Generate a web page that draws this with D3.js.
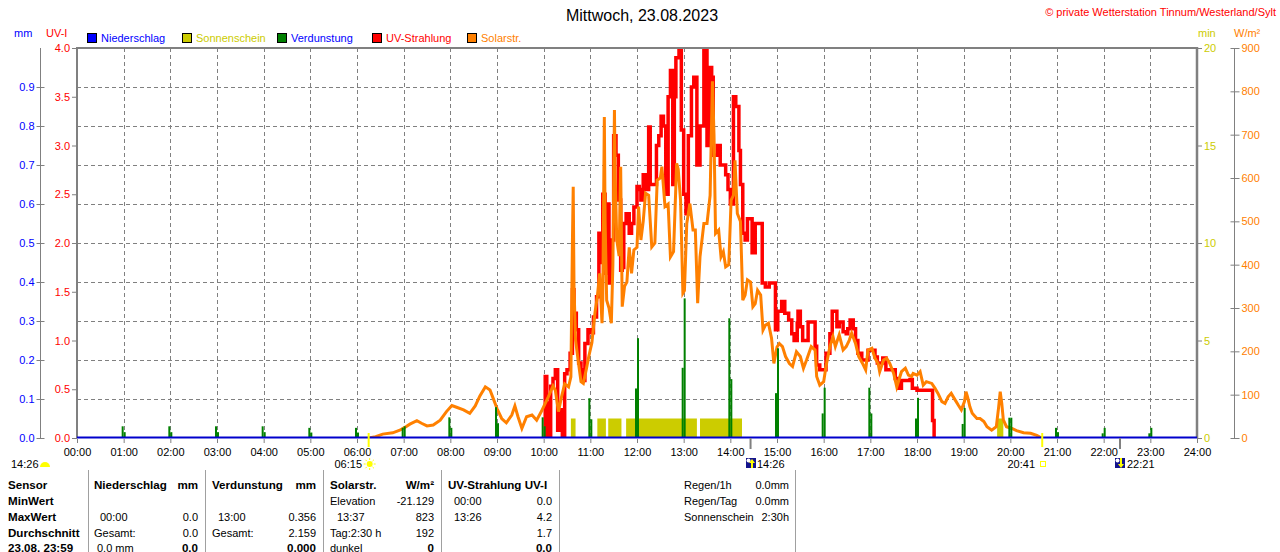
<!DOCTYPE html>
<html>
<head>
<meta charset="utf-8">
<script src="https://cdn.jsdelivr.net/npm/d3@7"></script>
<style>
body { margin: 0; background: #fff; }
text { font-family: "Liberation Sans", Arial, sans-serif; }
</style>
</head>
<body>
<svg width="1280" height="552"></svg>
<script>
// --- data ---
var hourLabels = ["00:00","01:00","02:00","03:00","04:00","05:00","06:00","07:00","08:00","09:00","10:00","11:00",
  "12:00","13:00","14:00","15:00","16:00","17:00","18:00","19:00","20:00","21:00","22:00","23:00","24:00"];
var mmTicks = [0.0, 0.1, 0.2, 0.3, 0.4, 0.5, 0.6, 0.7, 0.8, 0.9];
var uvTicks = [0.0, 0.5, 1.0, 1.5, 2.0, 2.5, 3.0, 3.5, 4.0];
var minTicks = [0, 5, 10, 15, 20];
var solarTicks = [0, 100, 200, 300, 400, 500, 600, 700, 800, 900];

// Verdunstung, two samples around each full hour (mm)
var evapHours = ["01:00","02:00","03:00","04:00","05:00","06:00","07:00","08:00","09:00","10:00","11:00","12:00",
  "13:00","14:00","15:00","16:00","17:00","18:00","19:00","20:00","21:00","22:00","23:00"];
var evapLeft  = [0.03, 0.03, 0.03, 0.03, 0.026, 0.026, 0.026, 0.053, 0.079, 0.053, 0.102, 0.127,
  0.18, 0.307, 0.115, 0.063, 0.129, 0.05, 0.036, 0.052, 0.026, 0.012, 0.012];
var evapRight = [0.015, 0.015, 0.015, 0.015, 0.014, 0.014, 0.03, 0.026, 0.038, 0.03, 0.048, 0.256,
  0.358, 0.151, 0.23, 0.129, 0.063, 0.103, 0.077, 0.052, 0.015, 0.026, 0.026];

// Sonnenschein intervals (min per min)
var sunStart   = ["10:35","11:09","11:23","11:46","13:21","19:43"];
var sunEnd     = ["10:41","11:20","11:40","13:17","14:15","19:51"];
var sunMinutes = [1, 1, 1, 1, 1, 1];

// UV-Strahlung (UV-I)
var uvTime = ["10:00","10:02","10:04","10:06","10:09","10:12","10:15","10:18","10:21","10:24","10:27","10:30",
  "10:34","10:37","10:39","10:42","10:45","10:48","10:50","10:53","10:57","11:00","11:04","11:08","11:11","11:14",
  "11:16","11:19","11:21","11:24","11:27","11:30","11:33","11:36","11:39","11:41","11:43","11:46","11:50","11:53",
  "11:56","12:00","12:03","12:05","12:08","12:12","12:15","12:17","12:21","12:25","12:28","12:31","12:34","12:37",
  "12:40","12:43","12:46","12:48","12:50","12:54","12:57","13:00","13:03","13:06","13:10","13:13","13:17","13:21",
  "13:24","13:26","13:28","13:30","13:34","13:36","13:38","13:43","13:47","13:51","13:54","13:57","14:00","14:04",
  "14:07","14:11","14:13","14:16","14:19","14:22","14:26","14:28","14:32","14:37","14:41","14:45","14:50","14:55",
  "14:58","15:01","15:06","15:10","15:15","15:19","15:22","15:26","15:27","15:30","15:33","15:36","15:40","15:47",
  "15:49","15:51","15:55","16:00","16:03","16:08","16:11","16:14","16:17","16:20","16:25","16:29","16:31","16:34",
  "16:38","16:41","16:44","16:49","16:53","16:57","17:02","17:06","17:09","17:12","17:16","17:20","17:27","17:32",
  "17:36","17:40","17:51","17:54","18:00","18:19","18:20","18:22"];
var uvValue = [0, 0.63, 0.36, 0, 0.53, 0.61, 0.70, 0.08, 0.29, 0, 0.66, 0.70,
  0.87, 1.52, 1.28, 1.11, 0.77, 0.70, 0.59, 0.97, 1.11, 1.08, 1.24, 1.45, 2.1, 1.8,
  2.5, 1.69, 2.4, 1.59, 2.03, 3.1, 2.9, 2.44, 1.72, 1.75, 2.2, 2.3, 2.1, 2.2,
  2.37, 2.58, 2.55, 2.44, 2.7, 2.55, 3.19, 2.6, 2.6, 3.0, 3.1, 3.3, 3.2, 2.5,
  3.5, 3.77, 2.6, 3.5, 3.9, 4.05, 3.16, 2.5, 2.3, 3.1, 3.6, 3.7, 2.8, 3.2,
  3.2, 4.2, 4.1, 3.0, 3.8, 3.7, 2.9, 3.0, 2.8, 2.8, 2.7, 2.55, 2.4, 3.5,
  3.4, 2.95, 2.6, 2.1, 2.03, 2.25, 2.25, 1.9, 2.2, 2.2, 1.59, 1.55, 1.59, 1.59,
  1.11, 1.3, 1.40, 1.28, 1.21, 1.07, 1.0, 1.18, 1.30, 1.14, 1.0, 1.0, 1.19, 1.19,
  0.94, 0.75, 0.70, 0.70, 0.87, 1.07, 1.30, 1.30, 1.14, 1.19, 1.09, 1.07, 1.12, 1.21,
  1.12, 1.0, 0.87, 0.80, 0.80, 0.90, 0.90, 0.83, 0.77, 0.77, 0.82, 0.70, 0.70, 0.61,
  0.51, 0.59, 0.60, 0.51, 0.49, 0.49, 0.18, 0];

// Solarstrahlung (W/m2)
var solarTime = ["06:15","06:24","06:33","06:46","06:55","07:02","07:08","07:17","07:23","07:30","07:38","07:47",
  "07:55","08:02","08:08","08:17","08:25","08:32","08:38","08:45","08:51","08:55","09:00","09:06","09:12","09:19",
  "09:23","09:27","09:32","09:38","09:45","09:51","09:57","10:02","10:06","10:12","10:15","10:19","10:23","10:27",
  "10:32","10:35","10:37","10:38","10:39","10:41","10:45","10:48","10:51","10:55","10:58","11:02","11:06","11:09",
  "11:12","11:15","11:16","11:18","11:19","11:21","11:24","11:27","11:29","11:31","11:32","11:34","11:37","11:39",
  "11:41","11:44","11:47","11:50","11:53","11:56","12:00","12:02","12:05","12:08","12:11","12:15","12:19","12:23",
  "12:26","12:30","12:32","12:36","12:40","12:43","12:47","12:51","12:53","12:56","12:59","13:01","13:04","13:08",
  "13:12","13:15","13:18","13:21","13:26","13:30","13:34","13:37","13:39","13:41","13:45","13:48","13:51","13:54",
  "13:58","14:01","14:04","14:06","14:09","14:13","14:16","14:19","14:22","14:26","14:29","14:32","14:35","14:39",
  "14:42","14:45","14:49","14:53","14:56","15:00","15:03","15:07","15:11","15:16","15:20","15:25","15:30","15:34",
  "15:38","15:44","15:49","15:51","15:55","16:00","16:03","16:08","16:12","16:15","16:20","16:25","16:29","16:33",
  "16:36","16:41","16:45","16:50","16:54","16:57","17:02","17:06","17:10","17:12","17:17","17:21","17:25","17:30",
  "17:34","17:40","17:45","17:49","17:53","17:55","18:00","18:04","18:08","18:12","18:19","18:23","18:27","18:32",
  "18:36","18:40","18:44","18:49","18:53","18:57","19:01","19:03","19:05","19:08","19:11","19:17","19:21","19:26",
  "19:30","19:36","19:42","19:45","19:47","19:49","19:51","19:55","20:02","20:08","20:17","20:26","20:34","20:38","20:41"];
var solarValue = [0, 3, 9, 12, 18, 25, 32, 40, 34, 28, 30, 41,
  61, 75, 71, 65, 57, 74, 97, 118, 111, 92, 68, 45, 35, 53,
  74, 49, 22, 49, 53, 41, 61, 80, 95, 120, 110, 61, 95, 125,
  118, 141, 457, 580, 350, 226, 170, 130, 126, 160, 188, 220, 290, 326,
  380, 265, 320, 741, 500, 318, 300, 265, 400, 757, 600, 457, 420, 626,
  303, 350, 360, 440, 380, 434, 440, 534, 457, 500, 565, 560, 441, 450,
  595, 600, 626, 534, 540, 418, 430, 634, 620, 549, 334, 340, 495, 541,
  480, 480, 311, 418, 495, 495, 560, 823, 700, 472, 480, 418, 430, 395,
  400, 549, 560, 641, 518, 500, 318, 330, 365, 360, 303, 310, 341, 330,
  249, 260, 265, 230, 172, 210, 218, 211, 188, 172, 165, 199, 188, 161,
  180, 211, 203, 142, 122, 130, 165, 211, 234, 211, 238, 203, 211, 226,
  242, 218, 188, 172, 157, 203, 207, 184, 172, 153, 180, 184, 172, 149,
  118, 153, 161, 145, 142, 149, 145, 153, 122, 130, 126, 115, 103, 84,
  80, 95, 103, 88, 76, 65, 84, 107, 95, 72, 57, 45, 45, 38,
  26, 18, 26, 72, 107, 80, 42, 26, 22, 17, 12, 11, 6, 2, 0];

var rowNames = ["Sensor", "MinWert", "MaxWert", "Durchschnitt", "23.08. 23:59"];

// --- setup ---
var svg = d3.select("svg"),
    plotL = 77, plotR = 1197, plotT = 48, plotB = 438;

function mins(s) { var p = s.split(":"); return +p[0] * 60 + +p[1]; }

var x = d3.scaleLinear().domain([0, 1440]).range([plotL, plotR]),
    yMm = d3.scaleLinear().domain([0, 1]).range([plotB, plotT]),
    yUv = d3.scaleLinear().domain([0, 4]).range([plotB, plotT]),
    yMin = d3.scaleLinear().domain([0, 20]).range([plotB, plotT]),
    ySol = d3.scaleLinear().domain([0, 900]).range([plotB, plotT]);

var grey = "#808080", blue = "#0000ff", red = "#ff0000", orange = "#ff8000",
    yellow = "#cccc00", green = "#008000";
var fontFam = "Liberation Sans, Arial, sans-serif";

svg.append("defs").append("clipPath").attr("id", "plot")
  .append("rect").attr("x", plotL).attr("y", plotT).attr("width", plotR - plotL).attr("height", plotB - plotT);

// grid
var g = svg.append("g");
g.selectAll(".hgrid").data(mmTicks.slice(1)).enter().append("line")
    .attr("x1", plotL).attr("x2", plotR)
    .attr("y1", function(d) { return Math.round(yMm(d)) + 0.5; })
    .attr("y2", function(d) { return Math.round(yMm(d)) + 0.5; })
    .attr("stroke", grey).attr("stroke-dasharray", "4,3");
g.selectAll(".vgrid").data(hourLabels.slice(1, 24)).enter().append("line")
    .attr("x1", function(d) { return Math.round(x(mins(d))) + 0.5; })
    .attr("x2", function(d) { return Math.round(x(mins(d))) + 0.5; })
    .attr("y1", plotT).attr("y2", plotB)
    .attr("stroke", grey).attr("stroke-dasharray", "4,3");

// sunshine bars
var sun = sunStart.map(function(s, i) { return {a: mins(s), b: mins(sunEnd[i]), v: sunMinutes[i]}; });
g.selectAll(".sun").data(sun).enter().append("rect")
    .attr("x", function(d) { return x(d.a); })
    .attr("width", function(d) { return x(d.b) - x(d.a); })
    .attr("y", function(d) { return yMin(d.v); })
    .attr("height", function(d) { return plotB - yMin(d.v); })
    .attr("fill", yellow);

// lines
var uv = uvTime.map(function(t, i) { return {t: mins(t), v: uvValue[i]}; });
var sol = solarTime.map(function(t, i) { return {t: mins(t), v: solarValue[i]}; });

var lines = svg.append("g").attr("clip-path", "url(#plot)");
lines.append("path").datum(uv)
    .attr("d", d3.line().curve(d3.curveStepAfter)
      .x(function(d) { return x(d.t); }).y(function(d) { return yUv(d.v); }))
    .attr("fill", "none").attr("stroke", red).attr("stroke-width", 3.5);
lines.append("path").datum(sol)
    .attr("d", d3.line().x(function(d) { return x(d.t); }).y(function(d) { return ySol(d.v); }))
    .attr("fill", "none").attr("stroke", orange).attr("stroke-width", 3);

// evaporation bars
var evap = evapHours.map(function(h, i) { return {t: mins(h), l: evapLeft[i], r: evapRight[i]}; });
var eb = svg.append("g");
eb.selectAll(".el").data(evap).enter().append("rect")
    .attr("x", function(d) { return x(d.t) - 2; }).attr("width", 2)
    .attr("y", function(d) { return yMm(d.l); })
    .attr("height", function(d) { return plotB - yMm(d.l); })
    .attr("fill", green);
eb.selectAll(".er").data(evap).enter().append("rect")
    .attr("x", function(d) { return x(d.t); }).attr("width", 2)
    .attr("y", function(d) { return yMm(d.r); })
    .attr("height", function(d) { return plotB - yMm(d.r); })
    .attr("fill", green);

// frame
svg.append("line").attr("x1", plotL).attr("x2", plotL).attr("y1", plotT - 1).attr("y2", plotB)
    .attr("stroke", grey).attr("stroke-width", 2);
svg.append("line").attr("x1", plotL).attr("x2", plotR + 1).attr("y1", plotT).attr("y2", plotT)
    .attr("stroke", grey).attr("stroke-width", 2);
svg.append("line").attr("x1", plotR).attr("x2", plotR).attr("y1", plotT - 1).attr("y2", plotB)
    .attr("stroke", grey).attr("stroke-width", 2.5);
svg.append("line").attr("x1", plotL).attr("x2", plotR).attr("y1", plotB - 0.5).attr("y2", plotB - 0.5)
    .attr("stroke", "#0000cc").attr("stroke-width", 2);

// x axis
var xAxis = svg.append("g")
    .attr("transform", "translate(0," + (plotB + 1) + ")")
    .call(d3.axisBottom(x).tickValues(hourLabels.map(mins)).tickSize(4).tickPadding(5)
      .tickFormat(function(d, i) { return hourLabels[i]; }));
xAxis.select(".domain").remove();
xAxis.selectAll("line").attr("stroke", grey);
xAxis.selectAll("text").attr("font-size", 11).attr("fill", "#000").attr("font-family", fontFam);

// left axes
var mmAxis = svg.append("g").attr("transform", "translate(40.5,0)")
    .call(d3.axisLeft(yMm).tickValues(mmTicks).tickSize(4).tickFormat(d3.format(".1f")));
mmAxis.select(".domain").attr("d", "M0," + plotT + "V" + plotB).attr("stroke", grey);
mmAxis.selectAll(".tick line").attr("x2", 4).attr("x1", -4).attr("stroke", grey);
mmAxis.selectAll("text").attr("fill", blue).attr("font-size", 11).attr("x", -6).attr("font-family", fontFam);

var uvAxis = svg.append("g").attr("transform", "translate(" + plotL + ",0)")
    .call(d3.axisLeft(yUv).tickValues(uvTicks).tickSize(5).tickPadding(2).tickFormat(d3.format(".1f")));
uvAxis.select(".domain").remove();
uvAxis.selectAll(".tick line").attr("stroke", grey);
uvAxis.selectAll("text").attr("fill", red).attr("font-size", 11).attr("font-family", fontFam);

// right axes
var minAxis = svg.append("g").attr("transform", "translate(" + plotR + ",0)")
    .call(d3.axisRight(yMin).tickValues(minTicks).tickSize(5).tickPadding(2));
minAxis.select(".domain").remove();
minAxis.selectAll(".tick line").attr("stroke", grey);
minAxis.selectAll("text").attr("fill", yellow).attr("font-size", 11).attr("font-family", fontFam);

var solAxis = svg.append("g").attr("transform", "translate(1234.5,0)")
    .call(d3.axisRight(ySol).tickValues(solarTicks).tickSize(5).tickPadding(2));
solAxis.select(".domain").attr("d", "M0," + plotT + "V" + plotB).attr("stroke", grey);
solAxis.selectAll(".tick line").attr("x1", -4).attr("stroke", grey);
solAxis.selectAll("text").attr("fill", orange).attr("font-size", 11).attr("font-family", fontFam);

// text helper
function label(tx, ty, s, col, size, anchor, weight) {
  return svg.append("text").attr("x", tx).attr("y", ty).attr("dy", "0.35em")
    .attr("fill", col).attr("font-size", size).attr("text-anchor", anchor || "start")
    .attr("font-weight", weight || "normal").text(s);
}
label(14, 33, "mm", blue, 11);
label(46, 33, "UV-I", red, 11);
label(1198, 33, "min", yellow, 11);
label(1234, 33, "W/m²", orange, 11);

// title & copyright
label(642, 15, "Mittwoch, 23.08.2023", "#000", 16, "middle");
label(1276, 12, "© private Wetterstation Tinnum/Westerland/Sylt", red, 11, "end");

// legend
var legendNames = ["Niederschlag", "Sonnenschein", "Verdunstung", "UV-Strahlung", "Solarstr."];
var legendFill = [blue, yellow, green, red, orange];
var legendText = [blue, yellow, blue, red, orange];
var legendX = [87, 182, 277, 372, 467];
legendNames.forEach(function(n, i) {
  svg.append("rect").attr("x", legendX[i] + 0.5).attr("y", 33.5).attr("width", 9).attr("height", 9)
    .attr("fill", legendFill[i]).attr("stroke", "#000");
  label(legendX[i] + 14, 38, n, legendText[i], 11);
});

// sunrise / sunset ticks and moon ticks
["06:15", "20:41"].forEach(function(m) {
  svg.append("line").attr("x1", x(mins(m))).attr("x2", x(mins(m)))
    .attr("y1", 433).attr("y2", 447).attr("stroke", "#ffff00").attr("stroke-width", 2);
});
["14:26", "22:21"].forEach(function(m) {
  svg.append("line").attr("x1", x(mins(m))).attr("x2", x(mins(m)))
    .attr("y1", plotB).attr("y2", 449).attr("stroke", grey).attr("stroke-width", 2);
});

// markers row
label(11, 464, "14:26", "#000", 11);
svg.append("path").attr("d", "M40,467 A5,5 0 0 1 50,467 Z").attr("fill", "#ffff00");
label(362, 464, "06:15", "#000", 11, "end");
var sx = x(mins("06:15")) + 1, sy = 464;
svg.append("circle").attr("cx", sx).attr("cy", sy).attr("r", 3).attr("fill", "#ffff00");
[0, 1, 2, 3, 4, 5, 6, 7].forEach(function(k) {
  var a = k * Math.PI / 4;
  svg.append("line").attr("x1", sx + Math.cos(a) * 4).attr("y1", sy + Math.sin(a) * 4)
    .attr("x2", sx + Math.cos(a) * 6).attr("y2", sy + Math.sin(a) * 6)
    .attr("stroke", "#ffff00").attr("stroke-width", 1);
});
function moonIcon(mx, up) {
  svg.append("rect").attr("x", mx).attr("y", 458).attr("width", 10).attr("height", 10).attr("fill", "#14148c");
  svg.append("circle").attr("cx", mx + 2.5).attr("cy", 460.5).attr("r", 2).attr("fill", "#fff");
  var ax = mx + 6;
  svg.append("path").attr("d", up
      ? "M" + ax + ",459 L" + (ax + 3) + ",463 L" + (ax - 3) + ",463 Z M" + (ax - 1) + ",463 h2 v5 h-2 Z"
      : "M" + ax + ",468 L" + (ax + 3) + ",464 L" + (ax - 3) + ",464 Z M" + (ax - 1) + ",458 h2 v6 h-2 Z")
    .attr("fill", "#ffff00");
}
moonIcon(746, true);
label(757, 464, "14:26", "#000", 11);
label(1035, 464, "20:41", "#000", 11, "end");
svg.append("rect").attr("x", 1040.5).attr("y", 461.5).attr("width", 5).attr("height", 5)
  .attr("fill", "none").attr("stroke", "#ffff00");
moonIcon(1115, false);
label(1127, 464, "22:21", "#000", 11);

// table
var sepX = [88, 205, 323, 441, 559, 795];
sepX.forEach(function(px) {
  svg.append("line").attr("x1", px + 0.5).attr("x2", px + 0.5).attr("y1", 470).attr("y2", 552)
    .attr("stroke", "#a0a0a0");
});
var rowY = [485, 501, 517, 533, 548];
rowNames.forEach(function(s, i) { label(8, rowY[i], s, "#000", 11.6, "start", "bold"); });

var cells = [
  // [x, row, text, anchor, bold]
  [94, 0, "Niederschlag", "start", 1], [198, 0, "mm", "end", 1],
  [100, 2, "00:00", "start", 0], [198, 2, "0.0", "end", 0],
  [94, 3, "Gesamt:", "start", 0], [198, 3, "0.0", "end", 0],
  [97, 4, "0.0 mm", "start", 0], [198, 4, "0.0", "end", 1],
  [212, 0, "Verdunstung", "start", 1], [316, 0, "mm", "end", 1],
  [218, 2, "13:00", "start", 0], [316, 2, "0.356", "end", 0],
  [212, 3, "Gesamt:", "start", 0], [316, 3, "2.159", "end", 0],
  [316, 4, "0.000", "end", 1],
  [330, 0, "Solarstr.", "start", 1], [434, 0, "W/m²", "end", 1],
  [330, 1, "Elevation", "start", 0], [434, 1, "-21.129", "end", 0],
  [337, 2, "13:37", "start", 0], [434, 2, "823", "end", 0],
  [330, 3, "Tag:2:30 h", "start", 0], [434, 3, "192", "end", 0],
  [330, 4, "dunkel", "start", 0], [434, 4, "0", "end", 1],
  [448, 0, "UV-Strahlung UV-I", "start", 1],
  [454, 1, "00:00", "start", 0], [552, 1, "0.0", "end", 0],
  [454, 2, "13:26", "start", 0], [552, 2, "4.2", "end", 0],
  [552, 3, "1.7", "end", 0],
  [552, 4, "0.0", "end", 1],
  [684, 0, "Regen/1h", "start", 0], [789, 0, "0.0mm", "end", 0],
  [684, 1, "Regen/Tag", "start", 0], [789, 1, "0.0mm", "end", 0],
  [684, 2, "Sonnenschein", "start", 0], [789, 2, "2:30h", "end", 0]
];
cells.forEach(function(c) {
  label(c[0], rowY[c[1]], c[2], "#000", c[4] ? 11.6 : 11, c[3], c[4] ? "bold" : "normal");
});
</script>
</body>
</html>
